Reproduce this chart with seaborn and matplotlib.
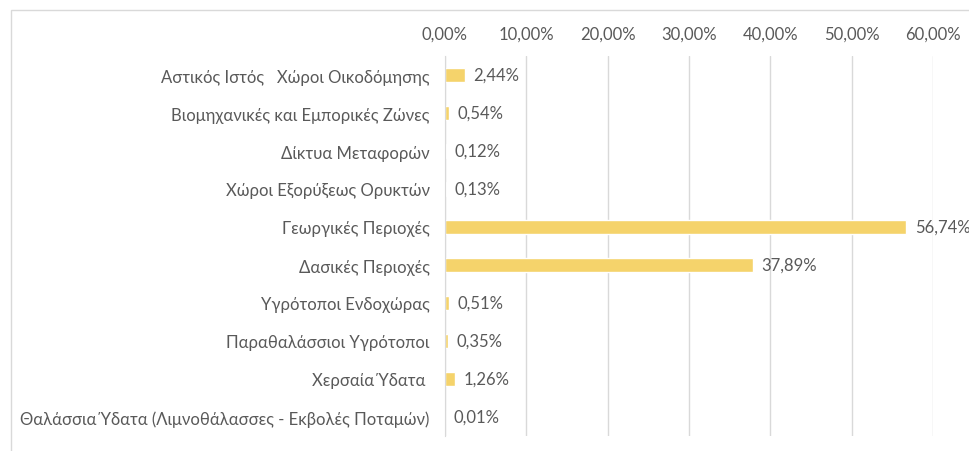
import numpy as np
import pandas as pd
import seaborn as sns
import matplotlib.pyplot as plt
from matplotlib.ticker import FuncFormatter
from matplotlib.patches import Rectangle

# land cover categories and share (%)
categories = [
    "Αστικός Ιστός   Χώροι Οικοδόμησης",
    "Βιομηχανικές και Εμπορικές Ζώνες",
    "Δίκτυα Μεταφορών",
    "Χώροι Εξορύξεως Ορυκτών",
    "Γεωργικές Περιοχές",
    "Δασικές Περιοχές",
    "Υγρότοποι Ενδοχώρας",
    "Παραθαλάσσιοι Υγρότοποι",
    "Χερσαία Ύδατα ",
    "Θαλάσσια Ύδατα (Λιμνοθάλασσες - Εκβολές Ποταμών)",
]
values = [2.44, 0.54, 0.12, 0.13, 56.74, 37.89, 0.51, 0.35, 1.26, 0.01]
xticks = [0, 10, 20, 30, 40, 50, 60]

df = pd.DataFrame({"cat": categories, "val": values})

sns.set_style("white")
plt.rcParams['font.family'] = ['Lato', 'DejaVu Sans']

txt = '#595959'
grid = '#d9d9d9'

fig = plt.figure(figsize=(9.7, 4.52), dpi=100)
ax = fig.add_axes([445/970, 1-437/452, (933-445)/970, (437-57)/452])

sns.barplot(data=df, x="val", y="cat", orient="h", color="#F5D36B",
            saturation=1, width=0.37, ax=ax)

ax.set_xlim(0, 60)
ax.set_xticks(xticks)
ax.xaxis.set_major_formatter(FuncFormatter(lambda v, p: f"{v:.2f}%".replace('.', ',')))
ax.xaxis.tick_top()
ax.tick_params(axis='x', length=0, pad=10, labelsize=12, labelcolor=txt)
ax.tick_params(axis='y', length=0, pad=11, labelsize=12, labelcolor=txt)
ax.set_xlabel("")
ax.set_ylabel("")
for s in ['top', 'right', 'bottom']:
    ax.spines[s].set_visible(False)
ax.spines['left'].set_color(grid)
ax.grid(axis='x', color=grid, linewidth=1)
ax.set_axisbelow(True)

for i, v in enumerate(values):
    ax.annotate(f"{v:.2f}%".replace('.', ','), (v, i), xytext=(6, 0),
                textcoords='offset points', va='center', ha='left',
                fontsize=12, color=txt, annotation_clip=False)

# chart frame
fig.patches.append(Rectangle((11/970, -0.1), 1.1, 1 - 11/452 + 0.1,
                             transform=fig.transFigure, fill=False,
                             edgecolor=grid, linewidth=1))

plt.savefig('out.png', dpi=100)
